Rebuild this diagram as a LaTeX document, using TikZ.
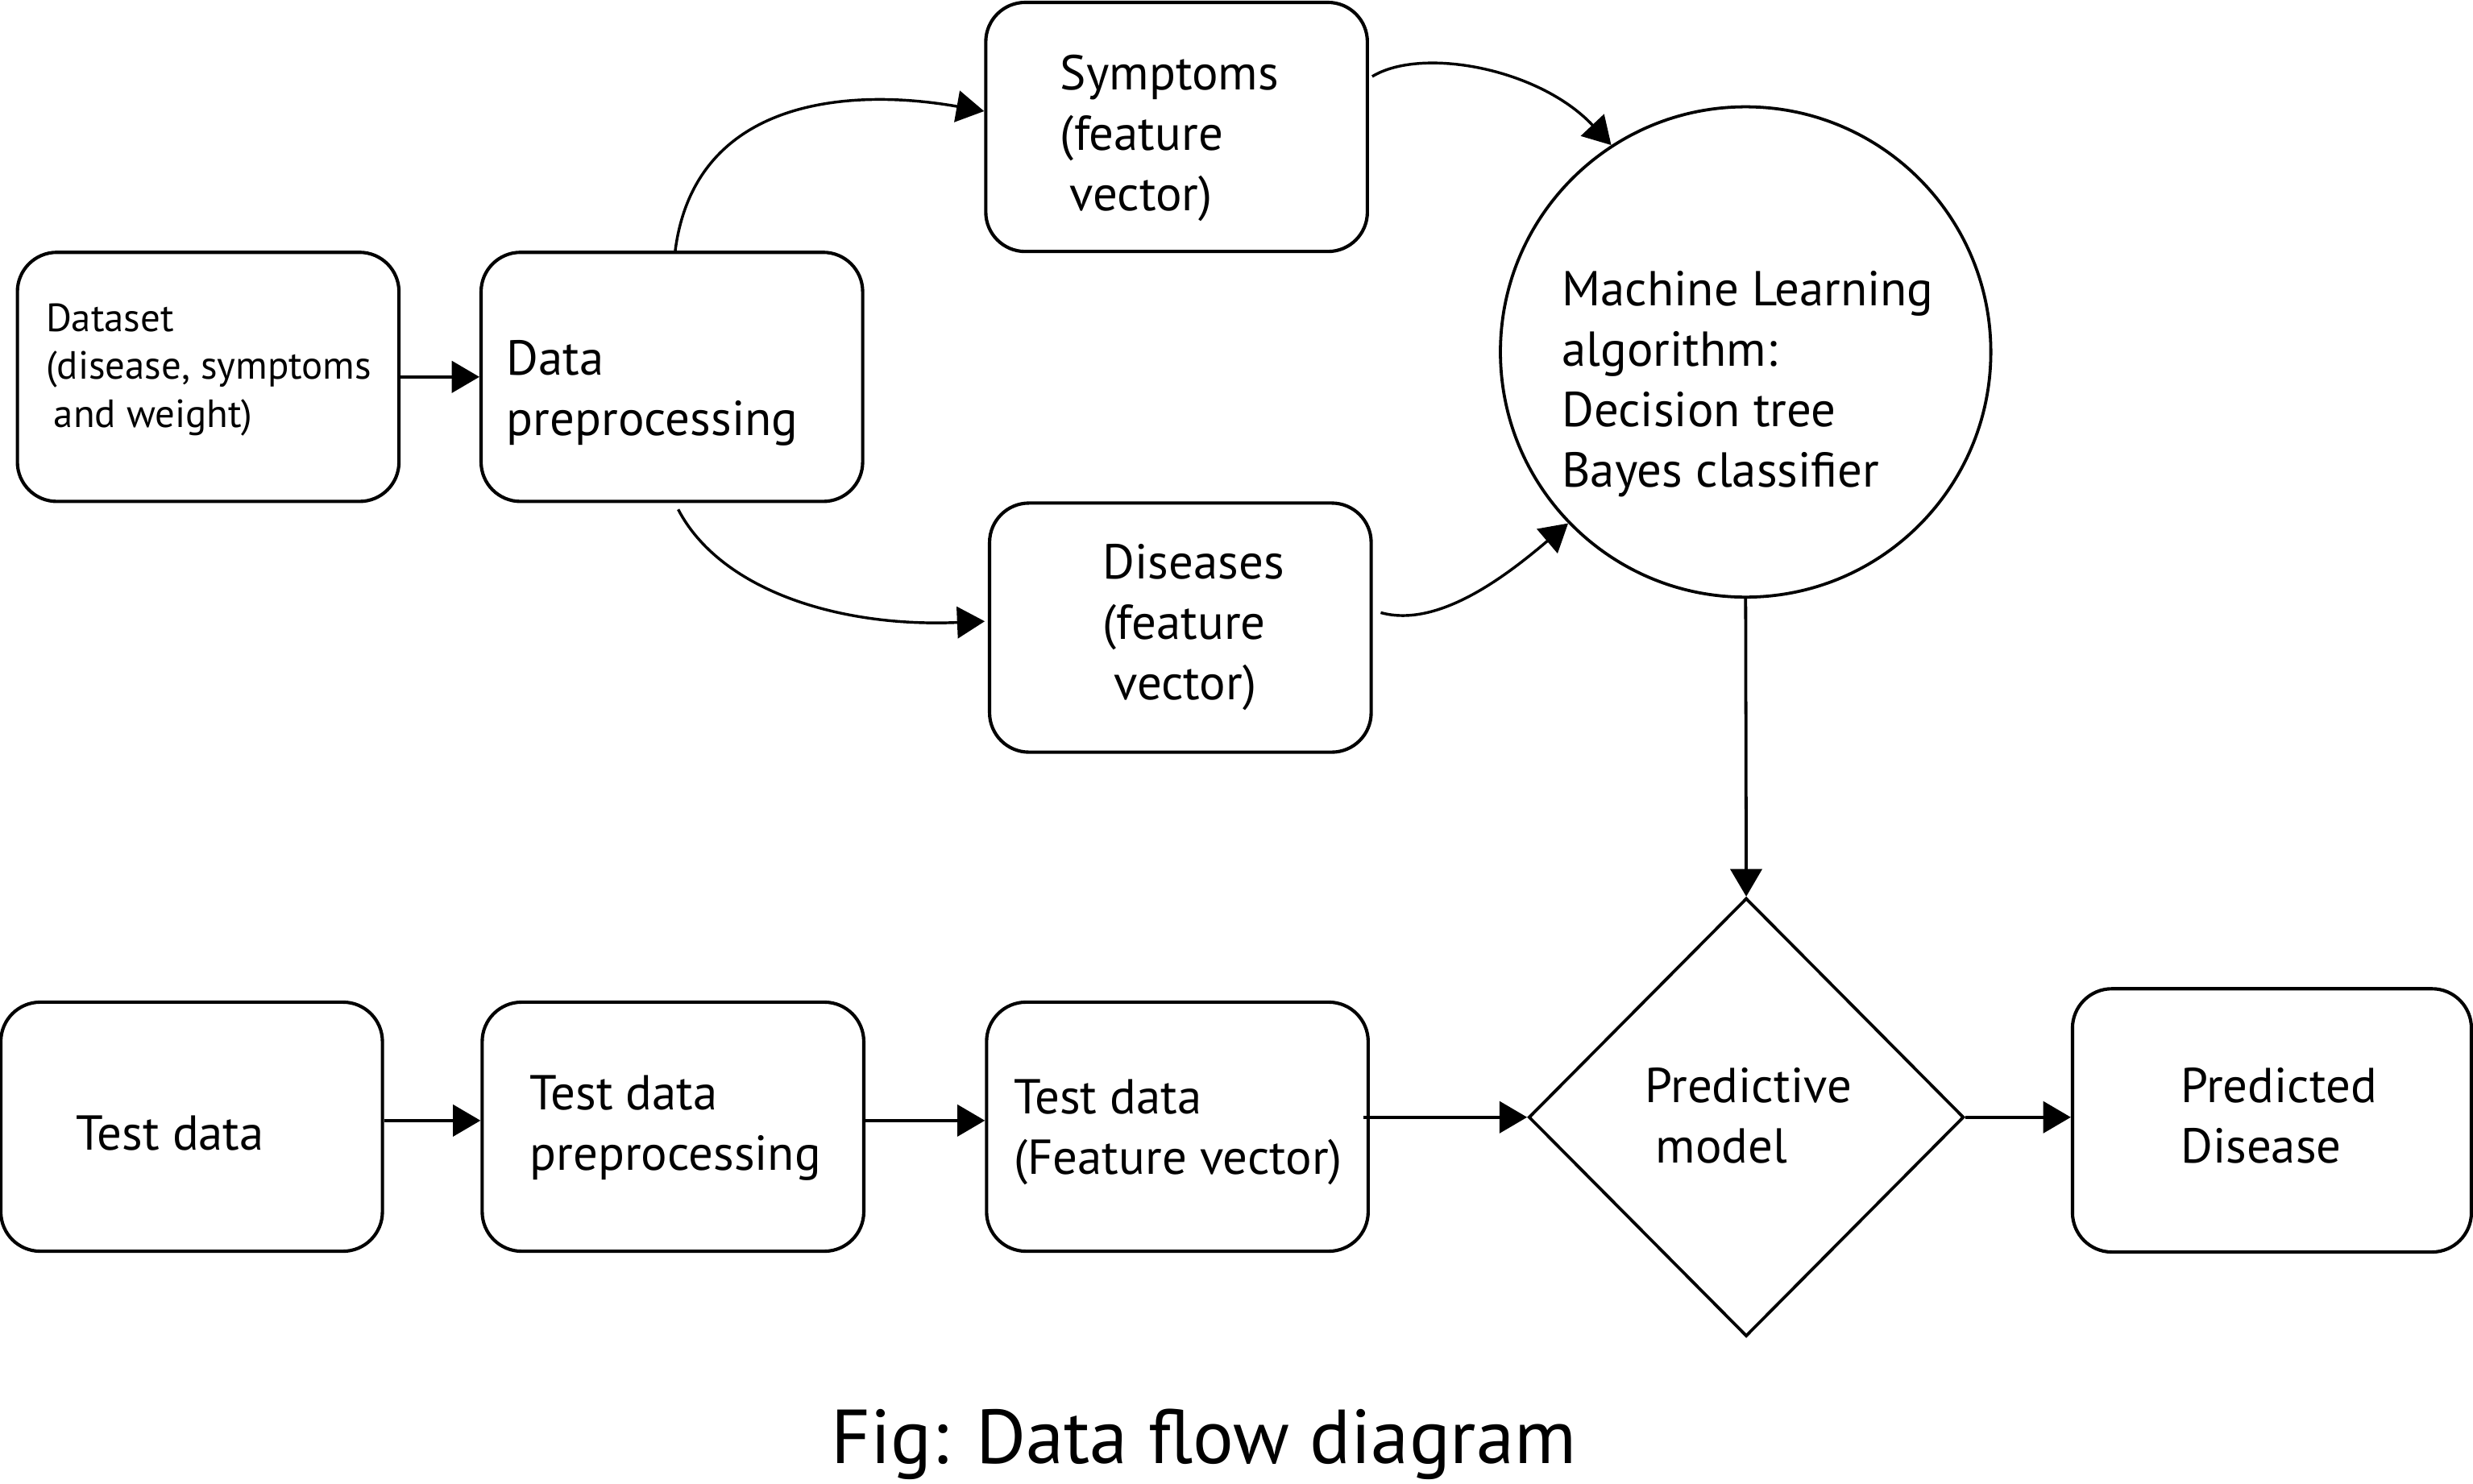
\documentclass[tikz,border=0pt]{standalone}
\usepackage{fontspec}
\setmainfont{PT Sans}
\usetikzlibrary{arrows.meta,shapes.geometric,calc}
\begin{document}
\begin{tikzpicture}[x=0.02cm,y=-0.02cm,
  box/.style={draw, line width=1.2pt, rounded corners=0.5cm, minimum width=4.84cm, minimum height=3.16cm, inner sep=0pt},
  txt/.style={anchor=base west, inner sep=0pt, font=\fontsize{17.7}{21.8}\selectfont},
  smalltxt/.style={anchor=base west, inner sep=0pt, font=\fontsize{14.2}{17.2}\selectfont},
  arr/.style={line width=1.1pt, -{Triangle[length=0.35cm,width=0.4cm]}},
  curv/.style={line width=1pt, -{Triangle[length=0.35cm,width=0.4cm]}}]
\useasboundingbox (0,0) rectangle (1568,941);
% shapes
\node[box] (dataset) at (132,239) {};
\node[box] (prep) at (426,239) {};
\node[box] (symp) at (746,80.5) {};
\node[box] (dis) at (748.4,398) {};
\node[draw, circle, line width=1.1pt, minimum size=6.22cm, inner sep=0pt] (ml) at (1106.8,223.2) {};
\node[draw, diamond, line width=1.1pt, minimum width=5.52cm, minimum height=5.56cm, inner sep=0pt] (dia) at (1107.2,708.5) {};
\node[box] (test) at (121.5,714.5) {};
\node[box] (tprep) at (426.7,714.5) {};
\node[box] (tfeat) at (746.5,714.5) {};
\node[box, minimum width=5.06cm, minimum height=3.34cm] (pred) at (1440.5,710.5) {};
% texts
\node[smalltxt] (tdataset) at (28.8,210.4) {\begin{tabular}[t]{@{}l@{}}Dataset\\(disease, symptoms\\\hspace{0.1cm}and weight)\end{tabular}};
\node[txt] (tprepl) at (321,238) {\begin{tabular}[t]{@{}l@{}}Data\\preprocessing\end{tabular}};
\node[txt] (tsymp) at (672,57) {\begin{tabular}[t]{@{}l@{}}Symptoms\\(feature\\\hspace{0.12cm}vector)\end{tabular}};
\node[txt] (tdis) at (699,367) {\begin{tabular}[t]{@{}l@{}}Diseases\\(feature\\\hspace{0.14cm}vector)\end{tabular}};
\node[txt] (tml) at (990,194) {\begin{tabular}[t]{@{}l@{}}Machine Learning\\algorithm:\\Decision tree\\Bayes classifier\end{tabular}};
\node[txt] (tdia) at (1042.6,699) {\begin{tabular}[t]{@{}l@{}}Predictive\\\hspace{0.136cm}model\end{tabular}};
\node[txt] (ttest) at (48,729.5) {Test data};
\node[txt] (ttprep) at (335.6,704) {\begin{tabular}[t]{@{}l@{}}Test data\\preprocessing\end{tabular}};
\node[txt] (ttfeat) at (642.5,706.5) {\begin{tabular}[t]{@{}l@{}}Test data\\(Feature vector)\end{tabular}};
\node[txt] (tpred) at (1382.3,699) {\begin{tabular}[t]{@{}l@{}}Predicted\\Disease\end{tabular}};
\node[anchor=base west, inner sep=0pt, font=\fontsize{27.6}{34}\selectfont] (cap) at (526.6,928) {Fig: Data flow diagram};
% connectors
\draw[arr] (dataset.east) -- (prep.west);
\draw[curv] ($(prep.north)+(2,1)$) .. controls +(12,-98) and +(-85,-15) .. ($(symp.west)+(0,-10)$);
\draw[curv] ($(prep.south)+(4,4)$) .. controls +(26,50) and +(-95,4) .. ($(dis.west)+(-2,-4)$);
\draw[curv] ($(symp.east)+(2,-32)$) .. controls +(31,-19) and +(-46,-49) .. (ml.123);
\draw[curv] ($(dis.east)+(5,-9.5)$) .. controls +(36,10) and +(-40,34) .. (ml.224);
\draw[arr] (ml.south) -- (dia.north);
\coordinate (rowa) at (0,710.6);
\draw[arr] (test.east |- rowa) -- (tprep.west |- rowa);
\draw[arr] (tprep.east |- rowa) -- (tfeat.west |- rowa);
\draw[arr] ($(tfeat.east |- dia.west)+(-4,0)$) -- (dia.west);
\draw[arr] (dia.east) -- (pred.west |- dia.east);
\end{tikzpicture}
\end{document}
